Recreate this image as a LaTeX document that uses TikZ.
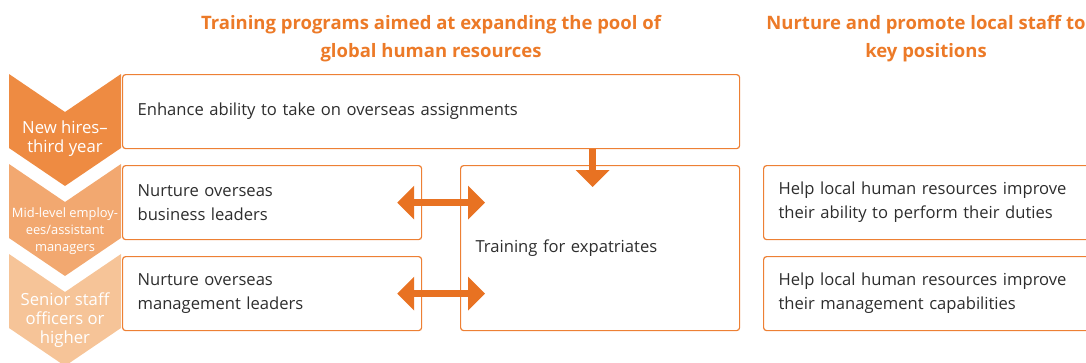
\documentclass[tikz,border=0pt]{standalone}
\usepackage{fontspec}
\setmainfont{Open Sans}
\usetikzlibrary{arrows.meta}

% 颜色
\definecolor{levelA}{RGB}{238,139,66}
\definecolor{levelB}{RGB}{242,168,112}
\definecolor{levelC}{RGB}{246,196,152}
\definecolor{headorange}{RGB}{236,122,40}
\definecolor{boxline}{RGB}{237,128,52}
\definecolor{arrorange}{RGB}{232,114,34}
\definecolor{txtgray}{RGB}{45,45,45}

\begin{document}
\begin{tikzpicture}[x=1pt, y=1pt, >=latex,  % 1pt 对应 1 像素
    heading/.style={text=headorange, align=center, font=\bfseries\fontsize{18.5}{28}\selectfont},
    box/.style={draw=boxline, line width=1.2pt, rounded corners=3pt, anchor=north west,
        align=left, inner xsep=15pt, text=txtgray, font=\fontsize{16.6}{24}\selectfont},
    lvltext/.style={text=white, align=center, font=\fontsize{16.7}{19}\selectfont},
    fat/.style={draw=arrorange, line width=7pt, -{Triangle[width=33pt, length=17pt]}},
    fatboth/.style={draw=arrorange, line width=7pt, {Triangle[width=33pt, length=17pt]}-{Triangle[width=33pt, length=17pt]}}]
    \clip (0,0) rectangle (1086,-362);  % 画面大小

    % 标题
    \node[heading] (globalhead) at (431,-39) {Training programs aimed at expanding the pool of\\global human resources};
    \node[heading] (localhead) at (926,-39) {Nurture and promote local staff to\\key positions};

    % 左侧的箭头形色块
    \foreach \t/\col in {74/levelA, 164/levelB, 254/levelC}
        \fill[\col] (9,-\t) -- (65,-\t-38) -- (121,-\t) -- (121,-\t-74) -- (65,-\t-112) -- (9,-\t-74) -- cycle;

    \node[lvltext] (newhires) at (65,-139) {New hires–\\third year};
    \node[lvltext, font=\fontsize{12.9}{17}\selectfont] (midlevel) at (65,-231) {Mid-level employ-\\ees/assistant\\managers};
    \node[lvltext] (senior) at (65,-320) {Senior staff\\officers or\\higher};

    % 方框
    \node[box, minimum width=617pt, minimum height=74pt, text width=587pt] (enhance) at (122,-74)
        {Enhance ability to take on overseas assignments};
    \node[box, minimum width=299pt, minimum height=74pt, text width=269pt] (bizlead) at (122,-165)
        {Nurture overseas\\business leaders};
    \node[box, minimum width=299pt, minimum height=74pt, text width=269pt] (mgmtlead) at (122,-256)
        {Nurture overseas\\management leaders};
    \node[box, minimum width=279pt, minimum height=165pt, text width=249pt] (expat) at (460,-165)
        {Training for expatriates};
    \node[box, minimum width=340pt, minimum height=74pt, text width=310pt] (dutyhelp) at (763,-165)
        {Help local human resources improve\\their ability to perform their duties};
    \node[box, minimum width=340pt, minimum height=74pt, text width=310pt] (mgmthelp) at (763,-256)
        {Help local human resources improve\\their management capabilities};

    % 粗箭头
    \draw[fat] ([xshift=161.5pt]enhance.south) -- ([xshift=161.5pt, yshift=-22pt]enhance.south |- expat.north);
    \draw[fatboth] ([xshift=-25pt]bizlead.east) -- ([xshift=25pt]bizlead.east -| expat.west);
    \draw[fatboth] ([xshift=-25pt]mgmtlead.east) -- ([xshift=25pt]mgmtlead.east -| expat.west);
\end{tikzpicture}
\end{document}
